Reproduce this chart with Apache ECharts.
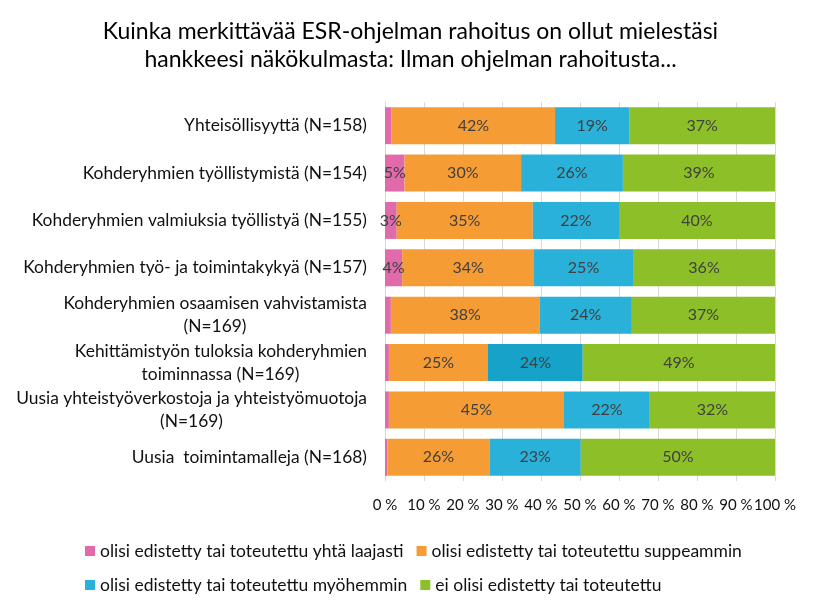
<!DOCTYPE html>
<html>
<head>
<meta charset="utf-8">
<script src="https://cdn.jsdelivr.net/npm/echarts@6/dist/echarts.min.js"></script>
<style>html,body{margin:0;padding:0;background:#fff}#c{width:821px;height:609px}</style>
</head>
<body>
<div id="c"></div>
<script>
const titleText = "Kuinka merkittävää ESR-ohjelman rahoitus on ollut mielestäsi\nhankkeesi näkökulmasta: Ilman ohjelman rahoitusta...";
const categories = [
  "Yhteisöllisyyttä (N=158)",
  "Kohderyhmien työllistymistä (N=154)",
  "Kohderyhmien valmiuksia työllistyä (N=155)",
  "Kohderyhmien työ- ja toimintakykyä (N=157)",
  "Kohderyhmien osaamisen vahvistamista\n(N=169)",
  "Kehittämistyön tuloksia kohderyhmien\ntoiminnassa (N=169)",
  "Uusia yhteistyöverkostoja ja yhteistyömuotoja\n(N=169)",
  "Uusia  toimintamalleja (N=168)"
];
const seriesNames = [
  "olisi edistetty tai toteutettu yhtä laajasti",
  "olisi edistetty tai toteutettu suppeammin",
  "olisi edistetty tai toteutettu myöhemmin",
  "ei olisi edistetty tai toteutettu"
];
const sameExtent = [1.7, 5.0, 3.0, 4.4, 1.5, 1.0, 1.0, 0.6];
const narrower   = [41.9, 29.9, 34.9, 33.8, 38.1, 25.4, 44.9, 26.2];
const later      = [19.0, 26.1, 22.1, 25.4, 23.7, 24.3, 22.0, 23.4];
const notAtAll   = [37.4, 39.0, 40.0, 36.4, 36.7, 49.3, 32.1, 49.8];
const xTicks = [0, 10, 20, 30, 40, 50, 60, 70, 80, 90, 100];

const colors = ["#e06aaa", "#f59c34", "#2ab1d9", "#8dbf28"];
const FONT = "Lato";
const catSize = 17.4;

const cv = document.createElement('canvas').getContext('2d');
cv.font = catSize + 'px ' + FONT;
const richStyles = {
  l: {fontSize: catSize, fontFamily: FONT, color: '#111', lineHeight: 23}
};
categories.forEach((v, i) => {
  const parts = v.split('\n');
  if (parts.length > 1) {
    richStyles['c' + i] = {fontSize: catSize, fontFamily: FONT, color: '#111', lineHeight: 23,
      width: Math.ceil(cv.measureText(parts[0]).width), align: 'center'};
  }
});

const seriesData = [sameExtent, narrower, later, notAtAll];
const series = seriesData.map((arr, si) => ({
  name: seriesNames[si],
  type: 'bar',
  stack: 'total',
  barCategoryGap: '22%',
  itemStyle: {color: colors[si]},
  label: {
    show: true,
    position: 'inside',
    fontFamily: FONT,
    fontSize: 16,
    color: '#404040',
    formatter: p => (p.value >= 2.5 ? Math.round(p.value) + '%' : '')
  },
  data: arr.map((v, i) => (si === 2 && i === 5) ? {value: v, itemStyle: {color: '#17a3c9'}} : v)
}));

const legendText = {fontFamily: FONT, fontSize: 17.5, color: '#111'};
const chart = echarts.init(document.getElementById('c'), null, {renderer: 'canvas'});
chart.setOption({
  animation: false,
  backgroundColor: '#fff',
  title: {
    text: titleText,
    left: 'center',
    top: 13,
    textStyle: {fontFamily: FONT, fontSize: 23, fontWeight: 'normal', color: '#000', lineHeight: 28}
  },
  legend: [
    {data: [seriesNames[0], seriesNames[1]], left: 80, top: 537, itemWidth: 10, itemHeight: 10, itemGap: 13,
     icon: 'rect', textStyle: legendText},
    {data: [seriesNames[2], seriesNames[3]], left: 80, top: 571, itemWidth: 10, itemHeight: 10, itemGap: 13,
     icon: 'rect', textStyle: legendText}
  ],
  grid: {left: 385, right: 46, top: 102, bottom: 128, containLabel: false},
  xAxis: {
    type: 'value', min: 0, max: 100, interval: 10,
    axisLine: {show: false}, axisTick: {show: false},
    splitLine: {show: true, lineStyle: {color: '#d9d9d9', width: 1}},
    axisLabel: {fontFamily: FONT, fontSize: 15, color: '#111', margin: 17,
      formatter: v => v + ' %'}
  },
  yAxis: {
    type: 'category', inverse: true, data: categories,
    axisLine: {show: true, lineStyle: {color: '#d9d9d9'}}, axisTick: {show: false},
    axisLabel: {margin: 18, align: 'right',
      formatter: (v) => {
        const i = categories.indexOf(v);
        const parts = v.split('\n');
        if (parts.length === 1) return '{l|' + v + '}';
        return '{l|' + parts[0] + '}\n{c' + i + '|' + parts[1] + '}';
      },
      rich: richStyles}
  },
  series: series
});
</script>
</body>
</html>
